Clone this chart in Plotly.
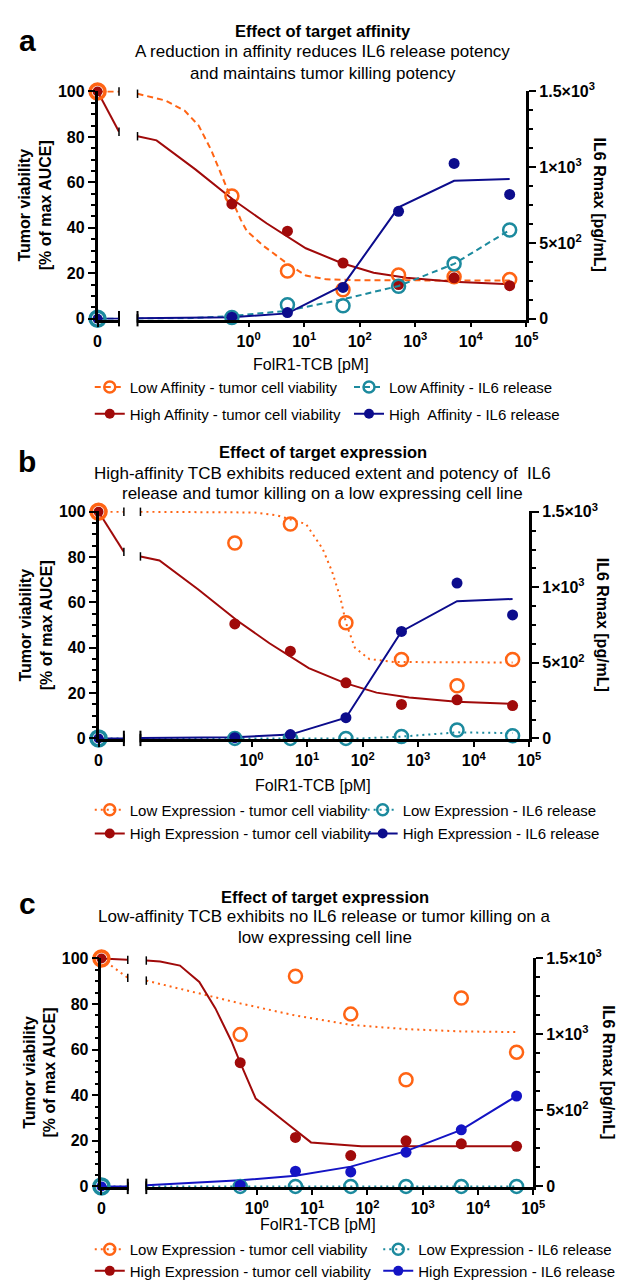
import plotly.graph_objects as go

W, H = 630, 1288
FONT = "Liberation Sans, Arial, Helvetica, sans-serif"

# ---------------- data ----------------
CONC = [0.5, 5, 50, 500, 5000, 50000]   # pM, log segment
ZERO_X = [0]                             # the "0" dose, linear segment
SEG1_X = [0, 1]                          # linear segment spans 0..1

# panel a
A_LOW_VIAB = [54, 21, 12.7, 19.2, 18.5, 17.2]
A_HIGH_VIAB = [50.5, 38.5, 24.5, 15, 18, 14.5]
A_LOW_IL6 = [8, 92, 85, 214, 362, 585]
A_HIGH_IL6 = [10, 40, 206, 709, 1025, 820]
A_ZERO_VIAB = [100]
A_ZERO_IL6 = [0]
A_LOW_VIAB_SEG1 = [100, 100]
A_HIGH_VIAB_SEG1 = [100, 82.3]
A_LOW_IL6_SEG1 = [0, 0]
A_HIGH_IL6_SEG1 = [0, 0]
A_LOW_VIAB_FIT_X = [0.01, 0.032, 0.071, 0.126, 0.214, 0.447, 0.724, 0.933, 1.86, 4.79, 10.7, 25, 100, 1000, 50000]
A_LOW_VIAB_FIT_Y = [99, 96, 91.5, 85, 74, 55, 43.5, 38.5, 32, 24.5, 19, 17.3, 16.9, 16.8, 16.8]
A_HIGH_VIAB_FIT_X = [0.01, 0.022, 0.11, 0.55, 2.1, 10.7, 47, 178, 690, 4900, 50000]
A_HIGH_VIAB_FIT_Y = [80.3, 78.5, 65.7, 52, 42, 31, 24.5, 20.2, 18, 16.2, 15.2]
A_LOW_IL6_FIT_X = [0.01, 0.1, 0.5, 5, 50, 500, 5000, 50000]
A_LOW_IL6_FIT_Y = [0, 4, 18, 52, 128, 216, 362, 585]
A_HIGH_IL6_FIT_X = [0.01, 0.5, 5, 50, 500, 5000, 50000]
A_HIGH_IL6_FIT_Y = [3, 10, 35, 220, 735, 910, 922]

# panel b
B_LOW_VIAB = [86.2, 94.6, 51, 34.8, 23.2, 34.8]
B_HIGH_VIAB = [50.5, 38.5, 24.5, 15, 17, 14.5]
B_LOW_IL6 = [0, 0, 0, 13, 56, 17]
B_HIGH_IL6 = [5, 25, 137, 708, 1028, 817]
B_ZERO_VIAB = [100]
B_ZERO_IL6 = [0]
B_LOW_VIAB_SEG1 = [100, 100]
B_HIGH_VIAB_SEG1 = [100, 82.3]
B_LOW_IL6_SEG1 = [0, 0]
B_HIGH_IL6_SEG1 = [0, 0]
B_LOW_VIAB_FIT_X = [0.01, 1.12, 2.88, 9.55, 19, 28.2, 39.8, 50, 72.4, 132, 363, 50000]
B_LOW_VIAB_FIT_Y = [100, 99.7, 98.4, 94.6, 83.7, 73.6, 62, 51, 40, 35, 33.7, 33.5]
B_HIGH_VIAB_FIT_X = [0.01, 0.022, 0.11, 0.55, 2.1, 10.7, 47, 178, 690, 4900, 50000]
B_HIGH_VIAB_FIT_Y = [80.3, 78.5, 65.7, 52, 42, 31, 24.5, 20.2, 18, 16.2, 15.2]
B_LOW_IL6_FIT_X = [0.01, 100, 500, 1600, 5000, 50000]
B_LOW_IL6_FIT_Y = [0, 0, 12, 28, 40, 35]
B_HIGH_IL6_FIT_X = [0.01, 0.5, 5, 50, 500, 5000, 50000]
B_HIGH_IL6_FIT_Y = [3, 8, 25, 137, 708, 908, 923]

# panel c
C_LOW_VIAB = [66.6, 92.2, 75.6, 46.8, 82.7, 58.9]
C_HIGH_VIAB = [54.3, 21.5, 13.5, 20, 18.7, 17.6]
C_LOW_IL6 = [0, 0, 0, 0, 0, 0]
C_HIGH_IL6 = [8, 100, 95, 225, 372, 595]
C_ZERO_VIAB = [100]
C_ZERO_IL6 = [0]
C_LOW_VIAB_SEG1 = [100, 91.5]
C_HIGH_VIAB_SEG1 = [100, 99.4]
C_LOW_IL6_SEG1 = [0, 0]
C_HIGH_IL6_SEG1 = [0, 0]
C_LOW_VIAB_FIT_X = [0.01, 0.135, 0.5, 4.9, 49, 500, 5000, 50000]
C_LOW_VIAB_FIT_Y = [90.3, 83.8, 80.3, 75, 70.9, 69, 68, 67.7]
C_HIGH_VIAB_FIT_X = [0.01, 0.0178, 0.0407, 0.091, 0.178, 0.347, 0.5, 0.955, 3.47, 9.55, 77.6, 50000]
C_HIGH_VIAB_FIT_Y = [99.1, 98.7, 96.9, 89.7, 78.1, 63.7, 54.3, 38.5, 27.7, 19.3, 17.6, 17.6]
C_LOW_IL6_FIT_X = [0.01, 50000]
C_LOW_IL6_FIT_Y = [0, 0]
C_HIGH_IL6_FIT_X = [0.01, 0.5, 5, 50, 500, 5000, 50000]
C_HIGH_IL6_FIT_Y = [8, 40, 70, 130, 232, 372, 595]

X_TICKS = [1, 10, 100, 1000, 10000, 100000]
X_TICKTEXT = ["10<sup>0</sup>", "10<sup>1</sup>", "10<sup>2</sup>", "10<sup>3</sup>", "10<sup>4</sup>", "10<sup>5</sup>"]
YR_TICKS = [0, 500, 1000, 1500]
YR_TICKTEXT = ["0", "5×10<sup>2</sup>", "1×10<sup>3</sup>", "1.5×10<sup>3</sup>"]

TITLES = [
    ["Effect of target affinity",
     "A reduction in affinity reduces IL6 release potency",
     "and maintains tumor killing potency"],
    ["Effect of target expression",
     "High-affinity TCB exhibits reduced extent and potency of\u00a0 IL6",
     "release and tumor killing on a low expressing cell line"],
    ["Effect of target expression",
     "Low-affinity TCB exhibits no IL6 release or tumor killing on a",
     "low expressing cell line"],
]
LETTERS = ["a", "b", "c"]
LEGEND_NAMES = [
    ["Low Affinity - tumor cell viability", "Low Affinity - IL6 release",
     "High Affinity - tumor cell viability", "High\u00a0 Affinity - IL6 release"],
    ["Low Expression - tumor cell viability", "Low Expression - IL6 release",
     "High Expression - tumor cell viability", "High Expression - IL6 release"],
    ["Low Expression - tumor cell viability", "Low Expression - IL6 release",
     "High Expression - tumor cell viability", "High Expression - IL6 release"],
]

ORANGE = "#FF6414"
DARKRED = "#A00A0A"
TEAL = "#1C8A9E"
NAVY = "#0C0C8C"
BLUE_C = "#1414C4"

# ---------------- layout geometry (pixels) ----------------
GEOM = [
    dict(x0=96, s1=118, s2=137, x1=536, ytop=82.7, ybot=313.3,
         title_y=[21.5, 42.5, 64], letter_y=31, title_x=327,
         yl_x=32, yr_x=611, xt_y=360, leg_y=[383, 410], leg_x=[88, 354]),
    dict(x0=97, s1=123, s2=140, x1=539, ytop=509.3, ybot=739.3,
         title_y=[449, 470, 491], letter_y=458, title_x=327,
         yl_x=33, yr_x=615, xt_y=787, leg_y=[812, 836], leg_x=[88, 368]),
    dict(x0=100, s1=127, s2=146, x1=543, ytop=962.7, ybot=1194,
         title_y=[900, 920.5, 941], letter_y=907, title_x=329,
         yl_x=37, yr_x=620, xt_y=1233, leg_y=[1258, 1280], leg_x=[88, 384]),
]

PANEL_DATA = [
    dict(low_v=A_LOW_VIAB, high_v=A_HIGH_VIAB, low_i=A_LOW_IL6, high_i=A_HIGH_IL6,
         z_v=A_ZERO_VIAB, z_i=A_ZERO_IL6,
         s1=[A_LOW_VIAB_SEG1, A_LOW_IL6_SEG1, A_HIGH_VIAB_SEG1, A_HIGH_IL6_SEG1],
         fits=[(A_LOW_VIAB_FIT_X, A_LOW_VIAB_FIT_Y), (A_LOW_IL6_FIT_X, A_LOW_IL6_FIT_Y),
               (A_HIGH_VIAB_FIT_X, A_HIGH_VIAB_FIT_Y), (A_HIGH_IL6_FIT_X, A_HIGH_IL6_FIT_Y)],
         dash="6px,4px", navy=NAVY),
    dict(low_v=B_LOW_VIAB, high_v=B_HIGH_VIAB, low_i=B_LOW_IL6, high_i=B_HIGH_IL6,
         z_v=B_ZERO_VIAB, z_i=B_ZERO_IL6,
         s1=[B_LOW_VIAB_SEG1, B_LOW_IL6_SEG1, B_HIGH_VIAB_SEG1, B_HIGH_IL6_SEG1],
         fits=[(B_LOW_VIAB_FIT_X, B_LOW_VIAB_FIT_Y), (B_LOW_IL6_FIT_X, B_LOW_IL6_FIT_Y),
               (B_HIGH_VIAB_FIT_X, B_HIGH_VIAB_FIT_Y), (B_HIGH_IL6_FIT_X, B_HIGH_IL6_FIT_Y)],
         dash="2px,4px", navy=NAVY),
    dict(low_v=C_LOW_VIAB, high_v=C_HIGH_VIAB, low_i=C_LOW_IL6, high_i=C_HIGH_IL6,
         z_v=C_ZERO_VIAB, z_i=C_ZERO_IL6,
         s1=[C_LOW_VIAB_SEG1, C_LOW_IL6_SEG1, C_HIGH_VIAB_SEG1, C_HIGH_IL6_SEG1],
         fits=[(C_LOW_VIAB_FIT_X, C_LOW_VIAB_FIT_Y), (C_LOW_IL6_FIT_X, C_LOW_IL6_FIT_Y),
               (C_HIGH_VIAB_FIT_X, C_HIGH_VIAB_FIT_Y), (C_HIGH_IL6_FIT_X, C_HIGH_IL6_FIT_Y)],
         dash="2px,4px", navy=BLUE_C),
]


def px_x(p):
    return p / W


def px_y(p):
    return 1 - p / H


def xid(n):
    return "x" if n == 1 else f"x{n}"


def yid(n):
    return "y" if n == 1 else f"y{n}"


def xkey(n):
    return "xaxis" if n == 1 else f"xaxis{n}"


def ykey(n):
    return "yaxis" if n == 1 else f"yaxis{n}"


fig = go.Figure()
layout = dict(
    width=W, height=H, margin=dict(l=0, r=0, t=0, b=0),
    paper_bgcolor="white", plot_bgcolor="rgba(0,0,0,0)",
    font=dict(family=FONT, color="black", size=15),
    showlegend=True, hovermode=False,
)
annotations = []

YPAD = 0.4  # range padding in % units so edge lines are not clipped
BOLD_TICK = dict(family=FONT, size=16, color="black", weight="bold")

legend_count = 0
for i, (g, d) in enumerate(zip(GEOM, PANEL_DATA)):
    nx1, nx2 = 2 * i + 1, 2 * i + 2
    nyl, nyr = 2 * i + 1, 2 * i + 2
    k = (g["ybot"] - g["ytop"]) / 100.0
    dom_y = [px_y(g["ybot"] + YPAD * k), px_y(g["ytop"] - YPAD * k)]

    layout[xkey(nx1)] = dict(
        domain=[px_x(g["x0"]), px_x(g["s1"])], range=[0, 1], anchor=yid(nyl),
        showline=True, linewidth=2.5, linecolor="black", showgrid=False, zeroline=False,
        tickmode="array", tickvals=[0], ticktext=["0"], ticks="outside", ticklen=5, tickwidth=2,
        tickcolor="black", tickfont=BOLD_TICK, fixedrange=True)
    layout[xkey(nx2)] = dict(
        domain=[px_x(g["s2"]), px_x(g["x1"])], type="log", range=[-2, 5], anchor=yid(nyl),
        showline=True, linewidth=2.5, linecolor="black", showgrid=False, zeroline=False,
        tickmode="array", tickvals=X_TICKS, ticktext=X_TICKTEXT, ticks="outside", ticklen=5,
        tickwidth=2, tickcolor="black", tickfont=BOLD_TICK, fixedrange=True)
    layout[ykey(nyl)] = dict(
        domain=dom_y, range=[-YPAD, 100 + YPAD], anchor=xid(nx1), side="left",
        showline=True, linewidth=2.5, linecolor="black", showgrid=False, zeroline=False,
        tickmode="array", tickvals=[0, 20, 40, 60, 80, 100], ticks="outside", ticklen=7,
        tickwidth=2, tickcolor="black", tickfont=BOLD_TICK, fixedrange=True,
        minor=dict(dtick=5, tick0=0, ticks="outside", ticklen=4, tickwidth=2, tickcolor="black", showgrid=False))
    layout[ykey(nyr)] = dict(
        domain=dom_y, range=[-YPAD * 15, 1500 + YPAD * 15], anchor=xid(nx2), overlaying=yid(nyl),
        side="right", showline=True, linewidth=2.5, linecolor="black", showgrid=False, zeroline=False,
        tickmode="array", tickvals=YR_TICKS, ticktext=YR_TICKTEXT, ticks="outside", ticklen=7,
        tickwidth=2, tickcolor="black", tickfont=BOLD_TICK, fixedrange=True,
        minor=dict(dtick=125, tick0=0, ticks="outside", ticklen=4, tickwidth=2, tickcolor="black", showgrid=False))

    xs1, xs2, yl, yr = xid(nx1), xid(nx2), yid(nyl), yid(nyr)

    series = [
        dict(vals=d["low_v"], z=d["z_v"], y=yl, color=ORANGE, dash=d["dash"], open=True),
        dict(vals=d["low_i"], z=d["z_i"], y=yr, color=TEAL, dash=d["dash"], open=True),
        dict(vals=d["high_v"], z=d["z_v"], y=yl, color=DARKRED, dash="solid", open=False),
        dict(vals=d["high_i"], z=d["z_i"], y=yr, color=d["navy"], dash="solid", open=False),
    ]

    # lines (segment 1 + fitted curves)
    for j, s in enumerate(series):
        fx, fy = d["fits"][j]
        fig.add_trace(go.Scatter(x=SEG1_X, y=d["s1"][j], xaxis=xs1, yaxis=s["y"], mode="lines",
                                 line=dict(color=s["color"], width=2, dash=s["dash"]),
                                 showlegend=False, hoverinfo="skip"))
        fig.add_trace(go.Scatter(x=fx, y=fy, xaxis=xs2, yaxis=s["y"], mode="lines",
                                 line=dict(color=s["color"], width=2, dash=s["dash"]),
                                 showlegend=False, hoverinfo="skip"))
        fig.add_trace(go.Scatter(x=[SEG1_X[-1]], y=[d["s1"][j][-1]], xaxis=xs1, yaxis=s["y"],
                                 mode="markers", cliponaxis=False,
                                 marker=dict(symbol="line-ns", size=6, line=dict(color="black", width=1.5)),
                                 showlegend=False, hoverinfo="skip"))
        fig.add_trace(go.Scatter(x=[fx[0]], y=[fy[0]], xaxis=xs2, yaxis=s["y"],
                                 mode="markers", cliponaxis=False,
                                 marker=dict(symbol="line-ns", size=6, line=dict(color="black", width=1.5)),
                                 showlegend=False, hoverinfo="skip"))

    # axis break marks at y = 0
    fig.add_trace(go.Scatter(x=[SEG1_X[-1]], y=[0], xaxis=xs1, yaxis=yl, mode="markers", cliponaxis=False,
                             marker=dict(symbol="line-ns", size=11, line=dict(color="black", width=2)),
                             showlegend=False, hoverinfo="skip"))
    fig.add_trace(go.Scatter(x=[0.01], y=[0], xaxis=xs2, yaxis=yl, mode="markers", cliponaxis=False,
                             marker=dict(symbol="line-ns", size=11, line=dict(color="black", width=2)),
                             showlegend=False, hoverinfo="skip"))

    # markers
    for j, s in enumerate(series):
        if s["open"]:
            mk = dict(symbol="circle-open", size=13, color=s["color"], line=dict(color=s["color"], width=2.5))
            mk0 = dict(symbol="circle-open", size=15, color=s["color"], line=dict(color=s["color"], width=3.5))
        else:
            mk = dict(symbol="circle", size=11, color=s["color"], line=dict(width=0))
            mk0 = dict(symbol="circle", size=10, color=s["color"], line=dict(width=0))
        fig.add_trace(go.Scatter(x=CONC, y=s["vals"], xaxis=xs2, yaxis=s["y"], mode="markers",
                                 cliponaxis=False, marker=mk, showlegend=False, hoverinfo="skip"))
        fig.add_trace(go.Scatter(x=ZERO_X, y=s["z"], xaxis=xs1, yaxis=s["y"], mode="markers",
                                 cliponaxis=False, marker=mk0, showlegend=False, hoverinfo="skip"))

    # legends: one legend box per entry, placed in a 2 x 2 grid
    names = LEGEND_NAMES[i]
    for j, s in enumerate(series):
        row, col = divmod(j, 2)
        legend_count += 1
        lid = "legend" if legend_count == 1 else f"legend{legend_count}"
        if s["open"]:
            mk = dict(symbol="circle-open", size=11, color=s["color"], line=dict(color=s["color"], width=2.5))
        else:
            mk = dict(symbol="circle", size=10, color=s["color"])
        fig.add_trace(go.Scatter(x=[None], y=[None], xaxis=xs2, yaxis=yl, mode="lines+markers",
                                 name=names[j], legend=lid,
                                 line=dict(color=s["color"], width=2, dash=s["dash"]), marker=mk))
        layout[lid] = dict(orientation="v", x=px_x(g["leg_x"][col]), xanchor="left",
                           y=px_y(g["leg_y"][row]), yanchor="middle",
                           font=dict(family=FONT, size=15, color="black"),
                           bgcolor="rgba(0,0,0,0)", borderwidth=0, itemclick=False, itemdoubleclick=False)

    # texts
    cx = g["title_x"]
    for li, txt in enumerate(TITLES[i]):
        annotations.append(dict(text=f"<b>{txt}</b>" if li == 0 else txt, x=px_x(cx), y=px_y(g["title_y"][li]),
                                xref="paper", yref="paper", xanchor="center", yanchor="middle", showarrow=False,
                                font=dict(family=FONT, size=16.5 if li == 0 else 17, color="black")))
    annotations.append(dict(text=f"<b>{LETTERS[i]}</b>", x=px_x(24), y=px_y(g["letter_y"]),
                            xref="paper", yref="paper", xanchor="center", yanchor="middle", showarrow=False,
                            font=dict(family=FONT, size=30, color="black")))
    ymid = (g["ytop"] + g["ybot"]) / 2
    annotations.append(dict(text="<b>Tumor viability<br>[% of max AUCE]</b>", x=px_x(g["yl_x"]), y=px_y(ymid),
                            xref="paper", yref="paper", xanchor="center", yanchor="middle", showarrow=False,
                            textangle=-90, font=dict(family=FONT, size=16, color="black")))
    annotations.append(dict(text="<b>IL6 Rmax [pg/mL]</b>", x=px_x(g["yr_x"]), y=px_y(ymid),
                            xref="paper", yref="paper", xanchor="center", yanchor="middle", showarrow=False,
                            textangle=90, font=dict(family=FONT, size=16, color="black")))
    annotations.append(dict(text="FolR1-TCB [pM]", x=px_x((g["s2"] + g["x1"]) / 2 - 22), y=px_y(g["xt_y"]),
                            xref="paper", yref="paper", xanchor="center", yanchor="middle", showarrow=False,
                            font=dict(family=FONT, size=16, color="black")))

layout["annotations"] = annotations
fig.update_layout(**layout)
fig.write_html("out.html", config={"displayModeBar": False, "staticPlot": False},
               post_script="document.body.style.margin='0px';document.body.style.overflow='hidden';")
